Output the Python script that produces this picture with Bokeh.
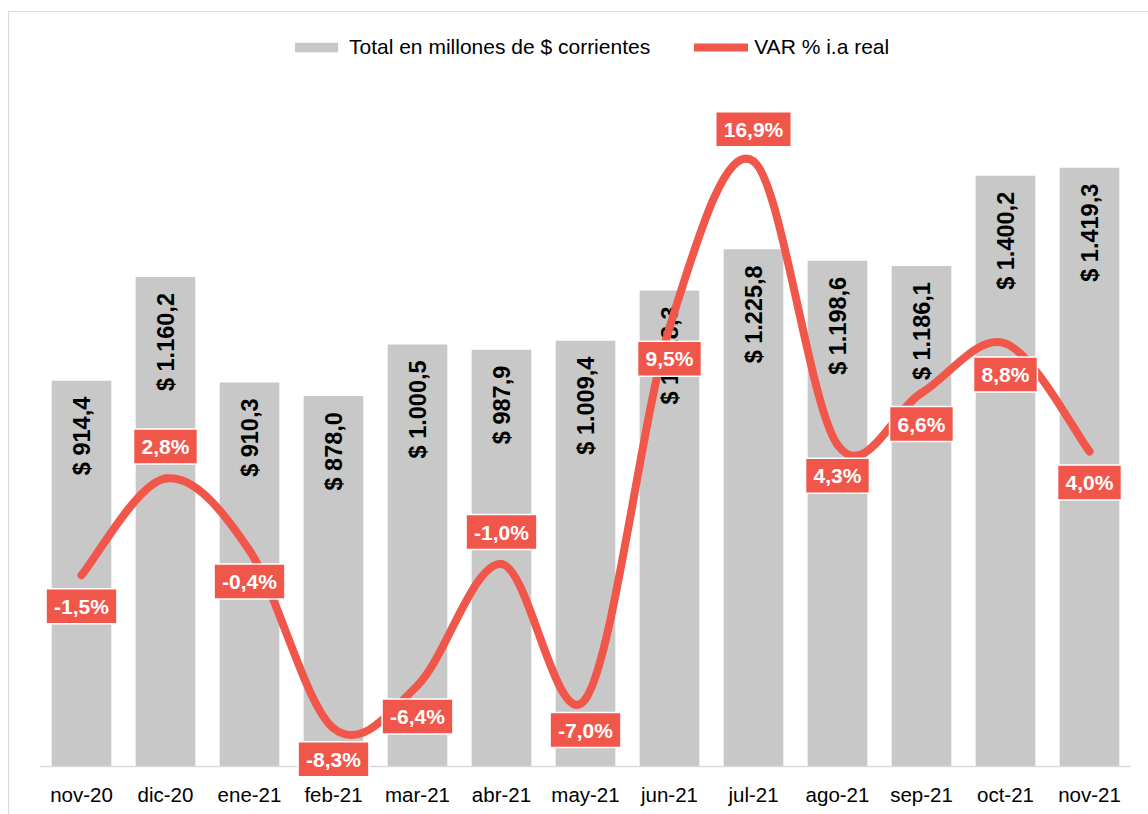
import math
from bokeh.plotting import figure
from bokeh.models import (Range1d, FixedTicker, Label, Legend, LegendItem,
                          ColumnDataSource, Span)
from bokeh.core.properties import value
from bokeh.embed import file_html
from bokeh.resources import INLINE

months = ["nov-20", "dic-20", "ene-21", "feb-21", "mar-21", "abr-21", "may-21",
          "jun-21", "jul-21", "ago-21", "sep-21", "oct-21", "nov-21"]
totals = [914.4, 1160.2, 910.3, 878.0, 1000.5, 987.9, 1009.4,
          1128.3, 1225.8, 1198.6, 1186.1, 1400.2, 1419.3]
var_pct = [-1.5, 2.8, -0.4, -8.3, -6.4, -1.0, -7.0, 9.5, 16.9, 4.3, 6.6, 8.8, 4.0]
label_side = ["below", "above", "below", "below", "below", "above", "below",
              "below", "above", "below", "below", "below", "below"]
legend_labels = ["Total en millones de $ corrientes", "VAR % i.a real"]

BAR = "#C8C8C8"
RED = "#F0574A"
FONT = "Liberation Sans"

# layout (pixels)
W, H = 1148, 814
FR_L, FR_R, FR_T, FR_B = 39, 1131, 20, 778   # plot frame edges on the page
BASE = 766                                   # pixel row of value 0 / axis line
PX_PER_UNIT = 675 / 1600                     # primary axis scale (0..1600)
PCT_ZERO, PX_PER_PCT = 541, 675 / 30         # secondary axis (-10..20)


def fmt_money(v):
    s = f"{v:,.1f}".replace(",", "X").replace(".", ",").replace("X", ".")
    return "$ " + s


def fmt_pct(v):
    return f"{v:.1f}".replace(".", ",") + "%"


xs = list(range(len(months)))

y_range = Range1d(-(FR_B - BASE) / PX_PER_UNIT, (BASE - FR_T) / PX_PER_UNIT)
pct_range = Range1d((PCT_ZERO - FR_B) / PX_PER_PCT, (PCT_ZERO - FR_T) / PX_PER_PCT)

border_css = ("linear-gradient(#D9D9D9,#D9D9D9) 8px 11px / 1px 100% no-repeat, "
              "linear-gradient(#D9D9D9,#D9D9D9) 8px 11px / 100% 1px no-repeat, white")

p = figure(width=W, height=H, output_backend="svg", toolbar_location=None,
           x_range=Range1d(-0.5, len(months) - 0.5), y_range=y_range,
           y_axis_location=None, min_border_left=FR_L, min_border_right=W - FR_R,
           min_border_top=FR_T, min_border_bottom=H - FR_B,
           styles={"background": border_css})
p.extra_y_ranges = {"pct": pct_range}
p.outline_line_color = None
p.grid.visible = False
p.background_fill_color = "white"
p.background_fill_alpha = 0
p.border_fill_alpha = 0

src = ColumnDataSource(dict(x=xs, total=totals,
                            tlabel=[fmt_money(v) for v in totals]))
bars = p.vbar(x="x", top="total", bottom=0, width=0.71, source=src,
              fill_color=BAR, line_color=None)
p.text(x="x", y="total", text="tlabel", source=src, angle=math.pi / 2,
       text_align="right", text_baseline="middle", y_offset=16,
       text_font=value(FONT), text_font_style="bold", text_font_size="23.5px",
       text_color="black")

# category axis baseline (value 0)
p.add_layout(Span(location=0, dimension="width", line_color="#D9D9D9",
                  line_width=1.3))

# smoothed line (Catmull-Rom style bezier through the data points)
n = len(var_pct)
x0, y0, x1, y1, cx0, cy0, cx1, cy1 = [], [], [], [], [], [], [], []
for i in range(n - 1):
    ip = max(i - 1, 0)
    inx = min(i + 2, n - 1)
    x0.append(xs[i]); y0.append(var_pct[i])
    x1.append(xs[i + 1]); y1.append(var_pct[i + 1])
    cx0.append(xs[i] + (xs[i + 1] - xs[ip]) / 6)
    cy0.append(var_pct[i] + (var_pct[i + 1] - var_pct[ip]) / 6)
    cx1.append(xs[i + 1] - (xs[inx] - xs[i]) / 6)
    cy1.append(var_pct[i + 1] - (var_pct[inx] - var_pct[i]) / 6)
line = p.bezier(x0=x0, y0=y0, x1=x1, y1=y1, cx0=cx0, cy0=cy0, cx1=cx1, cy1=cy1,
                y_range_name="pct", line_color=RED, line_width=8, line_cap="round")

for xi, v, side in zip(xs, var_pct, label_side):
    p.add_layout(Label(x=xi, y=v, y_range_name="pct", text=fmt_pct(v),
                       y_offset=32 if side == "above" else -31,
                       anchor="center", text_align="center", text_baseline="middle",
                       text_font=FONT, text_font_style="bold", text_font_size="21px",
                       text_color="white", background_fill_color=RED,
                       border_line_color="white", border_line_width=1.5,
                       padding=dict(left=8, right=8, top=6, bottom=6)))

ax = p.xaxis[0]
ax.ticker = FixedTicker(ticks=xs)
ax.major_label_overrides = {i: m for i, m in zip(xs, months)}
ax.major_tick_line_color = None
ax.minor_tick_line_color = None
ax.major_tick_out = 0
ax.major_tick_in = 0
ax.axis_line_color = None
ax.major_label_standoff = 4
ax.major_label_text_font = FONT
ax.major_label_text_font_size = "20.5px"
ax.major_label_text_color = "black"

legend = Legend(items=[LegendItem(label=legend_labels[0], renderers=[bars]),
                       LegendItem(label=legend_labels[1], renderers=[line])],
                orientation="horizontal", location=(250, FR_B - 59),
                glyph_width=54, glyph_height=12, label_standoff=6, spacing=44,
                padding=0, margin=0, border_line_color=None,
                background_fill_alpha=0,
                label_text_font=FONT, label_text_font_size="21px",
                label_text_color="black")
p.add_layout(legend, "center")

open("out.html", "w").write(file_html(p, INLINE))
